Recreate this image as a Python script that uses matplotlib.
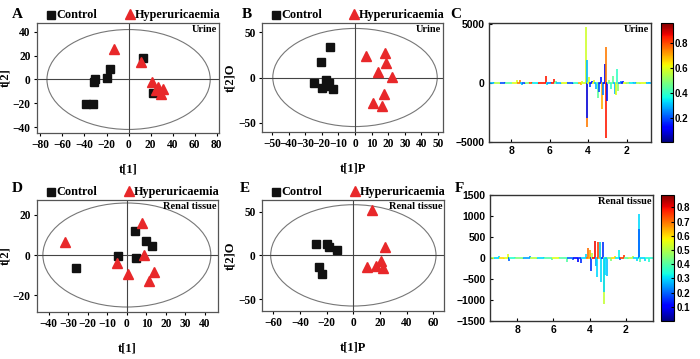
import numpy as np
import matplotlib
matplotlib.use("Agg")
import matplotlib.pyplot as plt
from matplotlib.patches import Ellipse
from matplotlib.collections import LineCollection

SERIF = "Liberation Serif"
SANS = "Liberation Sans"

# ---- scores: urine (A: PCA, B: OPLS-DA) ----
a_ctrl_x = [-38.7, -32.7, -31.5, -30.0, -19.3, -16.6, 13.3, 22.3]
a_ctrl_y = [-21.0, -20.5, -1.8, 0.0, 1.6, 8.9, 17.9, -11.2]
a_hyp_x = [-13.0, 11.0, 21.0, 27.0, 31.0, 29.0, 25.0]
a_hyp_y = [26.0, 15.0, -2.0, -6.0, -8.0, -12.0, -9.0]

b_ctrl_x = [-15.0, -20.6, -24.4, -17.6, -20.0, -15.4, -13.0, -16.0]
b_ctrl_y = [34.0, 16.8, -6.5, -2.8, -11.3, -5.7, -13.0, -9.0]
b_hyp_x = [6.6, 18.0, 18.6, 13.6, 22.4, 17.6, 10.6, 16.0]
b_hyp_y = [24.2, 27.5, 15.7, 6.5, 0.9, -18.3, -28.6, -31.5]

# ---- scores: renal tissue (D: PCA, E: OPLS-DA) ----
d_ctrl_x = [4.1, 9.6, 13.0, -4.4, 4.6, -25.8]
d_ctrl_y = [12.0, 7.0, 4.7, -0.3, -1.7, -6.7]
d_hyp_x = [7.5, -31.5, 8.9, -5.3, 0.7, 13.8, 11.5]
d_hyp_y = [15.8, 6.3, 0.0, -4.2, -9.7, -8.7, -13.0]

e_ctrl_x = [-28.0, -19.5, -18.0, -12.0, -25.5, -23.8]
e_ctrl_y = [12.6, 12.6, 10.0, 6.1, -13.0, -21.8]
e_hyp_x = [14.3, 23.8, 10.5, 17.0, 20.5, 22.5]
e_hyp_y = [51.9, 9.9, -13.0, -12.2, -6.5, -14.0]

# ---- loadings (ppm, coefficient, |r|) ----
c_ppm = [8.9, 8.6, 8.3, 7.95, 7.72, 7.55, 7.45, 7.3, 7.1, 6.9, 6.6, 6.2, 6.15, 5.95,
         5.8, 5.65, 5.4, 5.1, 4.8, 4.55, 4.4, 4.3, 4.09, 4.08, 4.07, 4.06, 3.95, 3.9,
         3.8, 3.7, 3.6, 3.5, 3.45, 3.35, 3.3, 3.25, 3.15, 3.08, 3.06, 3.02, 2.9, 2.8,
         2.7, 2.62, 2.55, 2.48, 2.45, 2.3, 2.2, 2.05, 1.9, 1.7, 1.5, 1.3, 1.0, 0.85]
c_val = [60, -50, 80, 40, 250, 300, -150, -100, 60, 100, -60, 600, -150, 80,
         350, 200, -100, 60, -50, -80, -200, 150, 4800, 2000, -3700, -3000, 500, -300,
         200, 300, -500, -1300, -800, 500, -2200, -1000, 1600, 3100, -4700, -1500, 300, -500,
         600, -900, -1000, 1200, -700, 200, 150, -80, 100, 60, 80, -60, 100, 50]
c_r = [0.3, 0.55, 0.2, 0.45, 0.6, 0.75, 0.3, 0.2, 0.5, 0.8, 0.35, 0.85, 0.35, 0.25,
       0.85, 0.45, 0.3, 0.6, 0.2, 0.4, 0.7, 0.6, 0.58, 0.3, 0.75, 0.15, 0.6, 0.2,
       0.15, 0.6, 0.3, 0.45, 0.2, 0.15, 0.7, 0.25, 0.1, 0.75, 0.85, 0.15, 0.5, 0.4,
       0.45, 0.3, 0.6, 0.4, 0.5, 0.25, 0.15, 0.6, 0.5, 0.35, 0.3, 0.55, 0.6, 0.3]

f_ppm = [9.3, 9.0, 8.7, 8.5, 8.45, 8.1, 7.7, 7.3, 6.9, 6.5, 6.1, 5.7, 5.27, 4.9,
         4.62, 4.5, 4.2, 4.07, 4.0, 3.94, 3.85, 3.7, 3.65, 3.6, 3.55, 3.45, 3.42, 3.35,
         3.27, 3.22, 3.2, 3.14, 3.05, 2.8, 2.6, 2.4, 2.3, 2.13, 1.9, 1.58, 1.4, 1.3,
         1.28, 1.2, 0.93, 0.75]
f_val = [-30, 40, -20, 100, -80, 30, -30, 40, -20, 30, -40, 30, -90, -40,
         -100, -120, 90, 250, 190, -300, 120, 400, -200, -450, 390, 380, 370, -570,
         370, -1090, -800, -400, -420, -60, 50, 180, -50, 60, -30, 50, -80, 1050,
         680, -100, -80, -90]
f_r = [0.5, 0.3, 0.6, 0.55, 0.2, 0.35, 0.45, 0.25, 0.5, 0.3, 0.4, 0.55, 0.4, 0.2,
       0.1, 0.15, 0.3, 0.7, 0.65, 0.15, 0.5, 0.8, 0.25, 0.3, 0.75, 0.65, 0.3, 0.3,
       0.15, 0.52, 0.3, 0.3, 0.28, 0.45, 0.6, 0.32, 0.2, 0.75, 0.4, 0.5, 0.3, 0.3,
       0.2, 0.4, 0.3, 0.35]

ctrl_color = "#111111"
hyp_color = "#e8282a"


def score_panel(ax, cx, cy, hx, hy, xlim, ylim, xticks, yticks, ell, tag, xlab, ylab):
    ax.set_xlim(xlim)
    ax.set_ylim(ylim)
    ax.add_patch(Ellipse((0, 0), 2 * ell[0], 2 * ell[1], fill=False, ec="#777777", lw=0.8))
    ax.axhline(0, color="#444444", lw=0.8)
    ax.axvline(0, color="#444444", lw=0.8)
    ax.plot(cx, cy, "s", color=ctrl_color, ms=5.2, ls="none")
    ax.plot(hx, hy, "^", color=hyp_color, ms=7, ls="none")
    ax.set_xticks(xticks)
    ax.set_yticks(yticks)
    ax.tick_params(length=2.5, width=0.8, pad=2)
    for lab in ax.get_xticklabels() + ax.get_yticklabels():
        lab.set_fontfamily(SERIF)
        lab.set_fontweight("bold")
        lab.set_fontsize(8.3)
    for s in ax.spines.values():
        s.set_color("#555555")
        s.set_linewidth(0.9)
    ax.set_xlabel(xlab, family=SERIF, fontweight="bold", fontsize=9, labelpad=9)
    ax.set_ylabel(ylab, family=SERIF, fontweight="bold", fontsize=9, labelpad=1)
    ax.text(0.99, 0.985, tag, transform=ax.transAxes, ha="right", va="top",
            family=SERIF, fontweight="bold", fontsize=7.5)
    # legend above the axes
    ly = 1.075
    ax.plot([0.075], [ly], "s", color=ctrl_color, ms=6, transform=ax.transAxes, clip_on=False)
    ax.text(0.105, ly, "Control", transform=ax.transAxes, va="center",
            family=SERIF, fontweight="bold", fontsize=8.8)
    ax.plot([0.51], [ly + 0.005], "^", color=hyp_color, ms=7.5, transform=ax.transAxes, clip_on=False)
    ax.text(0.535, ly, "Hyperuricaemia", transform=ax.transAxes, va="center",
            family=SERIF, fontweight="bold", fontsize=8.8)


def loading_panel(ax, cax, ppm, val, r, xlim, ylim, yticks, vmin, vmax, cticks, tag):
    order = np.argsort(ppm)[::-1]
    cmap = plt.get_cmap("jet")
    norm = plt.Normalize(vmin, vmax)
    segs, cols = [], []
    prev = xlim[0]
    for i in order:
        p, v, c = ppm[i], val[i], r[i]
        segs.append([(prev, 0), (p, 0)])
        cols.append(c)
        segs.append([(p, 0), (p, v)])
        cols.append(c)
        prev = p
    segs.append([(prev, 0), (xlim[1], 0)])
    cols.append(r[order[-1]])
    lc = LineCollection(segs, cmap=cmap, norm=norm, linewidths=1.2)
    lc.set_array(np.array(cols))
    ax.add_collection(lc)
    ax.set_xlim(xlim)
    ax.set_ylim(ylim)
    ax.set_xticks([8, 6, 4, 2])
    ax.set_yticks(yticks)
    ax.tick_params(direction="in", length=2.5, width=0.8, pad=3)
    for lab in ax.get_xticklabels() + ax.get_yticklabels():
        lab.set_fontfamily(SANS)
        lab.set_fontweight("bold")
        lab.set_fontsize(7.5)
    for s in ax.spines.values():
        s.set_color("#333333")
        s.set_linewidth(1.0)
    ax.text(0.99, 0.985, tag, transform=ax.transAxes, ha="right", va="top",
            family=SERIF, fontweight="bold", fontsize=7.5)
    cb = plt.colorbar(plt.cm.ScalarMappable(norm=norm, cmap=cmap), cax=cax)
    cb.set_ticks(cticks)
    cb.outline.set_linewidth(0.8)
    cax.tick_params(direction="in", length=2, width=0.8, pad=1.5)
    for lab in cax.get_yticklabels():
        lab.set_fontfamily(SANS)
        lab.set_fontweight("bold")
        lab.set_fontsize(7)


fig = plt.figure(figsize=(7.0, 3.59), dpi=100)

axA = fig.add_axes([0.0529, 0.6295, 0.26, 0.3064])
axB = fig.add_axes([0.3743, 0.6323, 0.2586, 0.3036])
axC = fig.add_axes([0.6986, 0.6045, 0.2314, 0.3315])
caxC = fig.add_axes([0.9443, 0.6045, 0.0171, 0.3315])
axD = fig.add_axes([0.0529, 0.1309, 0.2586, 0.312])
axE = fig.add_axes([0.3743, 0.1337, 0.26, 0.3092])
axF = fig.add_axes([0.700, 0.1058, 0.2329, 0.351])
caxF = fig.add_axes([0.944, 0.1058, 0.019, 0.351])

score_panel(axA, a_ctrl_x, a_ctrl_y, a_hyp_x, a_hyp_y, (-83, 82), (-45, 47.5),
            range(-80, 81, 20), [-40, -20, 0, 20, 40], (74, 42), "Urine", "t[1]", "t[2]")
score_panel(axB, b_ctrl_x, b_ctrl_y, b_hyp_x, b_hyp_y, (-56, 53), (-60, 60),
            range(-50, 51, 10), [-50, 0, 50], (49.5, 54), "Urine", "t[1]P", "t[2]O")
score_panel(axD, d_ctrl_x, d_ctrl_y, d_hyp_x, d_hyp_y, (-46, 46.7), (-28.5, 27.5),
            range(-40, 41, 10), [-20, 0, 20], (43, 26), "Renal tissue", "t[1]", "t[2]")
score_panel(axE, e_ctrl_x, e_ctrl_y, e_hyp_x, e_hyp_y, (-68.5, 68), (-63.7, 63.4),
            range(-60, 61, 20), [-50, 0, 50], (62, 58), "Renal tissue", "t[1]P", "t[2]O")

loading_panel(axC, caxC, c_ppm, c_val, c_r, (9.15, 0.74), (-5000, 5100),
              [-5000, 0, 5000], 0.01, 0.96, [0.2, 0.4, 0.6, 0.8], "Urine")
loading_panel(axF, caxF, f_ppm, f_val, f_r, (9.5, 0.5), (-1500, 1500),
              [-1500, -1000, -500, 0, 500, 1000, 1500], 0.0, 0.887,
              [0.1, 0.2, 0.3, 0.4, 0.5, 0.6, 0.7, 0.8], "Renal tissue")

for letter, px, py in [("A", 17, 15), ("B", 247, 15), ("C", 456, 15),
                       ("D", 17, 188), ("E", 245, 188), ("F", 459, 188)]:
    fig.text(px / 700, 1 - py / 359, letter, family=SERIF, fontweight="bold",
             fontsize=11, ha="center", va="center")

fig.savefig("out.png", dpi=100)
